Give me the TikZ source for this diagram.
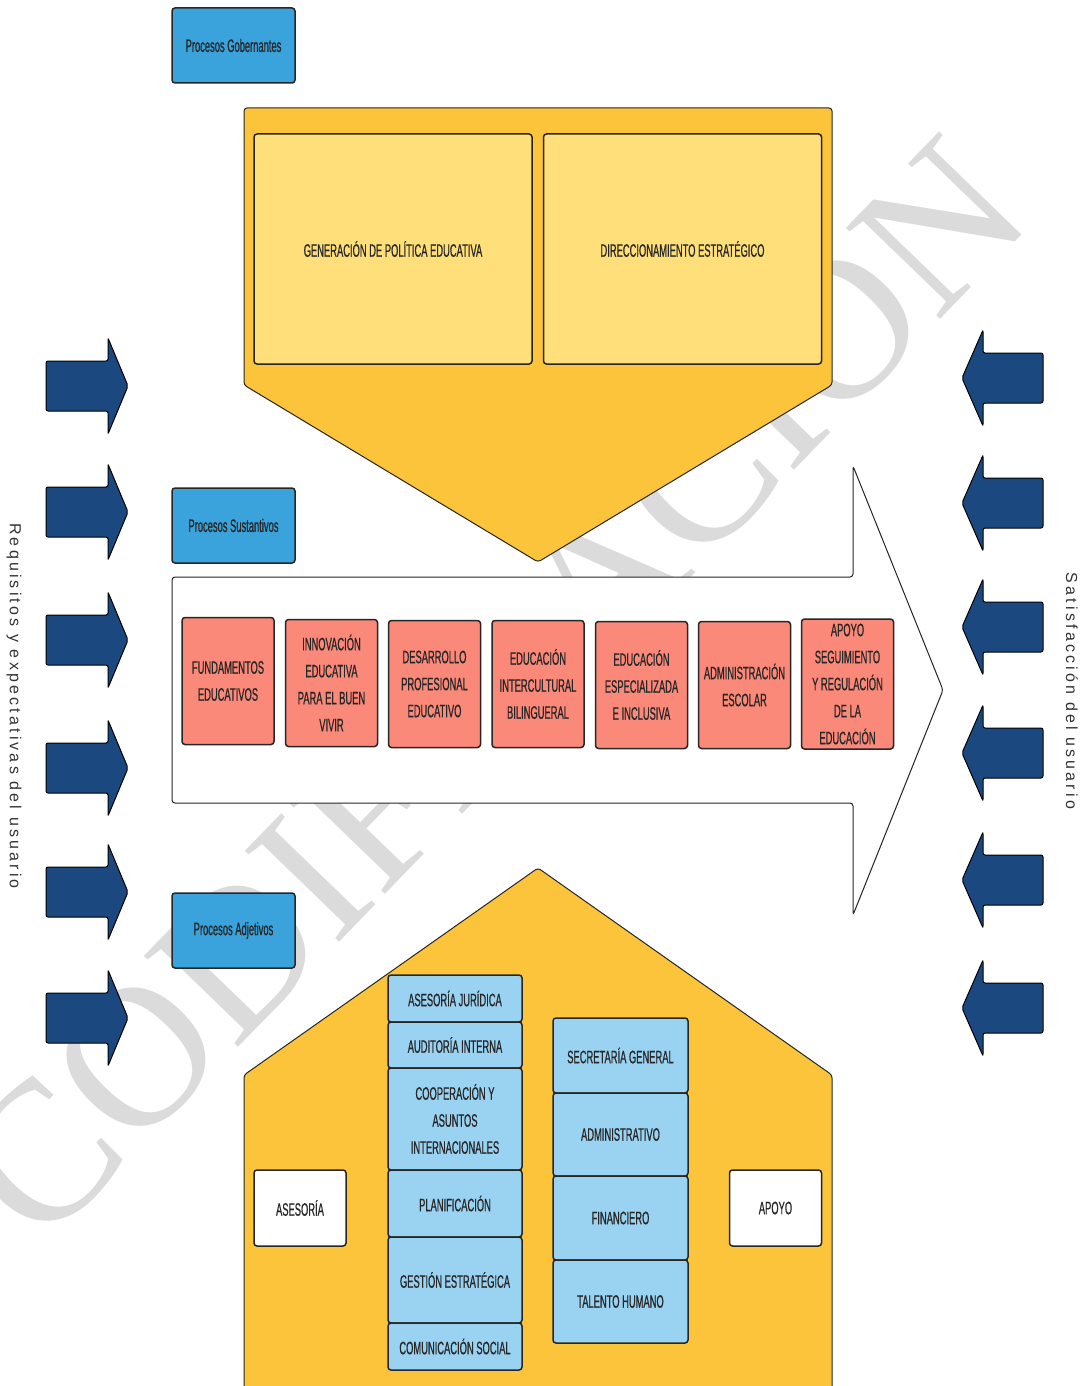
\documentclass[tikz,border=0pt]{standalone}
\usepackage{fontspec}
\setmainfont{Liberation Sans}
\newfontfamily\narrowfont[FakeStretch=0.52, FakeBold=0.6]{Liberation Sans}
\newfontfamily\spacedfont[LetterSpace=20]{Liberation Sans}
\newfontfamily\markfont{Liberation Serif}

\definecolor{procblue}{RGB}{58,163,219}
\definecolor{pentyellow}{RGB}{251,196,58}
\definecolor{paleyellow}{RGB}{255,223,122}
\definecolor{salmon}{RGB}{250,137,122}
\definecolor{skyblue}{RGB}{154,210,242}
\definecolor{navyarrow}{RGB}{28,72,128}

\tikzset{
  box/.style={draw=black!85, line width=1.5pt, rounded corners=3pt, align=center,
    inner sep=0pt, text=black!85, font=\narrowfont\fontsize{18}{27}\selectfont},
  procbox/.style={box, fill=procblue, minimum width=123pt, minimum height=75pt},
  govbox/.style={box, fill=paleyellow, minimum width=278pt, minimum height=230pt},
  subbox/.style={box, fill=salmon, minimum width=92pt, minimum height=127pt},
  adjbox/.style={box, fill=skyblue, minimum width=134pt},
  sidebox/.style={box, fill=white, minimum width=92pt, minimum height=76pt},
  bigshape/.style={draw=black!85, line width=1pt, rounded corners=3pt},
  navy/.style={draw=black, line width=1pt, fill=navyarrow, rounded corners=2pt},
  sidetext/.style={rotate=-90, text=black!80, font=\spacedfont\fontsize{16}{16}\selectfont}
}

\begin{document}
\begin{tikzpicture}[x=1pt, y=-1pt]

\useasboundingbox (0,0) rectangle (1086,1386);

%% watermark
\node [rotate=46, text=gray!28, font=\markfont\fontsize{200}{200}\selectfont] (mark) at (492,690) {CODIFICACION};

%% Procesos Gobernantes
\draw [bigshape, fill=pentyellow] (244,385) -- (244,108) -- (832,108) -- (832,385) -- (538,562) -- cycle;
\node [procbox] (gob) at (233.5,45.5) {Procesos Gobernantes};
\node [govbox] (gen) at (393,249) {GENERACIÓN DE POLÍTICA EDUCATIVA};
\node [govbox] (dir) at (682.5,249) {DIRECCIONAMIENTO ESTRATÉGICO};

%% Procesos Sustantivos
\draw [bigshape, fill=white] (172,577) -- (853,577) -- (853,466) -- (943,690) -- (853,915) -- (853,803) -- (172,803) -- cycle;
\node [procbox] (sus) at (233.5,525.5) {Procesos Sustantivos};
\node [subbox] (fund) at (228,681) {FUNDAMENTOS\\EDUCATIVOS};
\node [subbox] (innov) at (331.5,683) {INNOVACIÓN\\EDUCATIVA\\PARA EL BUEN\\VIVIR};
\node [subbox] (desa) at (434.5,684) {DESARROLLO\\PROFESIONAL\\EDUCATIVO};
\node [subbox] (inter) at (538,684) {EDUCACIÓN\\INTERCULTURAL\\BILINGUERAL};
\node [subbox] (espe) at (641.5,685) {EDUCACIÓN\\ESPECIALIZADA\\E INCLUSIVA};
\node [subbox] (escol) at (744.5,685) {ADMINISTRACIÓN\\ESCOLAR};
\node [subbox, minimum height=130pt] (apoyoseg) at (847.5,684) {APOYO\\SEGUIMIENTO\\Y REGULACIÓN\\DE LA\\EDUCACIÓN};

%% Procesos Adjetivos
\draw [bigshape, fill=pentyellow] (244,1395) -- (244,1075) -- (538,868) -- (832,1075) -- (832,1395);
\node [procbox] (adj) at (233.5,930.5) {Procesos Adjetivos};
\node [sidebox] (ases) at (300,1208) {ASESORÍA};
\node [sidebox] (apoyo) at (775.5,1208) {APOYO};

\node [adjbox, minimum height=47pt] (jur) at (455,998.5) {ASESORÍA JURÍDICA};
\node [adjbox, minimum height=46pt] (aud) at (455,1045) {AUDITORÍA INTERNA};
\node [adjbox, minimum height=102pt] (coop) at (455,1119) {COOPERACIÓN Y\\ASUNTOS\\INTERNACIONALES};
\node [adjbox, minimum height=67pt] (plan) at (455,1203.5) {PLANIFICACIÓN};
\node [adjbox, minimum height=86pt] (gest) at (455,1280) {GESTIÓN ESTRATÉGICA};
\node [adjbox, minimum height=47pt] (com) at (455,1346.5) {COMUNICACIÓN SOCIAL};

\node [adjbox, minimum width=135pt, minimum height=75pt] (secr) at (620.5,1055.5) {SECRETARÍA GENERAL};
\node [adjbox, minimum width=135pt, minimum height=83pt] (admi) at (620.5,1134.5) {ADMINISTRATIVO};
\node [adjbox, minimum width=135pt, minimum height=84pt] (fin) at (620.5,1218) {FINANCIERO};
\node [adjbox, minimum width=135pt, minimum height=83pt] (tal) at (620.5,1301.5) {TALENTO HUMANO};

%% usuario, entrada
\foreach \y in {386,512,640,768,892,1018}
  \draw [navy] (46,\y-25) -- (108,\y-25) -- (108,\y-48) -- (128,\y) -- (108,\y+48) -- (108,\y+25) -- (46,\y+25) -- cycle;
\node [sidetext] (req) at (14,706) {Requisitos y expectativas del usuario};

%% usuario, salida
\foreach \y in {378,503,627,753,880,1008}
  \draw [navy] (1043,\y-25) -- (983,\y-25) -- (983,\y-48) -- (962,\y) -- (983,\y+48) -- (983,\y+25) -- (1043,\y+25) -- cycle;
\node [sidetext] (sat) at (1072,691) {Satisfacción del usuario};

\end{tikzpicture}
\end{document}
